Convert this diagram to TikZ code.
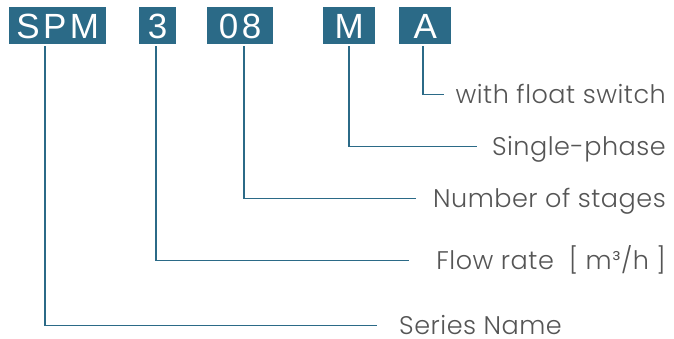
\documentclass[tikz,border=0pt]{standalone}
\usepackage{fontspec}
\setmainfont{Liberation Sans}
\newfontfamily\codefont{Liberation Sans}[LetterSpace=10]
\newfontfamily\lblfont{Poppins Light}[LetterSpace=2]
\definecolor{codeblue}{RGB}{43,106,135}
\definecolor{lblgray}{RGB}{85,85,85}
\tikzset{
  code/.style={fill=codeblue, text=white, inner sep=0pt, minimum height=37pt,
    text height=25pt, text depth=0pt, anchor=north west,
    font=\codefont\fontsize{35}{35}\selectfont},
  lbl/.style={text=lblgray, inner sep=0pt, text height=17pt, text depth=0pt,
    font=\lblfont\fontsize{25.5}{25.5}\selectfont},
  lead/.style={draw=codeblue, line width=1.5pt}
}
\begin{document}
\begin{tikzpicture}[x=1pt,y=-1pt]
  \useasboundingbox (0,0) rectangle (674,338);

  \node[code, minimum width=97pt] (spm) at (9,7) {SPM};
  \node[code, minimum width=37pt] (flow) at (139,7) {3};
  \node[code, minimum width=66pt] (stg) at (207,7) {08};
  \node[code, minimum width=52pt] (ph) at (323,7) {M};
  \node[code, minimum width=52pt] (fs) at (399,7) {A};

  \node[lbl, anchor=base east] (fs-lbl) at (666,103) {with float switch};
  \node[lbl, anchor=base east] (ph-lbl) at (666,155) {Single-phase};
  \node[lbl, anchor=base east] (stg-lbl) at (666,207) {Number of stages};
  \node[lbl, anchor=base east] (flow-lbl) at (666,269) {Flow rate~~[ m³/h ]};
  \node[lbl, anchor=base west] (spm-lbl) at (399,334) {Series Name};

  \draw[lead] ([xshift=-2pt,yshift=-2pt]fs.south) |- ([xshift=-11pt]fs-lbl.west);
  \draw[lead] ([yshift=-2pt]ph.south) |- ([xshift=-15pt]ph-lbl.west);
  \draw[lead] ([xshift=4pt,yshift=-2pt]stg.south) |- ([xshift=-17pt]stg-lbl.west);
  \draw[lead] ([xshift=-1.5pt,yshift=-2pt]flow.south) |- ([xshift=-27pt]flow-lbl.west);
  \draw[lead] ([xshift=-12.5pt,yshift=-2pt]spm.south) |- ([xshift=-22pt]spm-lbl.west);
\end{tikzpicture}
\end{document}
